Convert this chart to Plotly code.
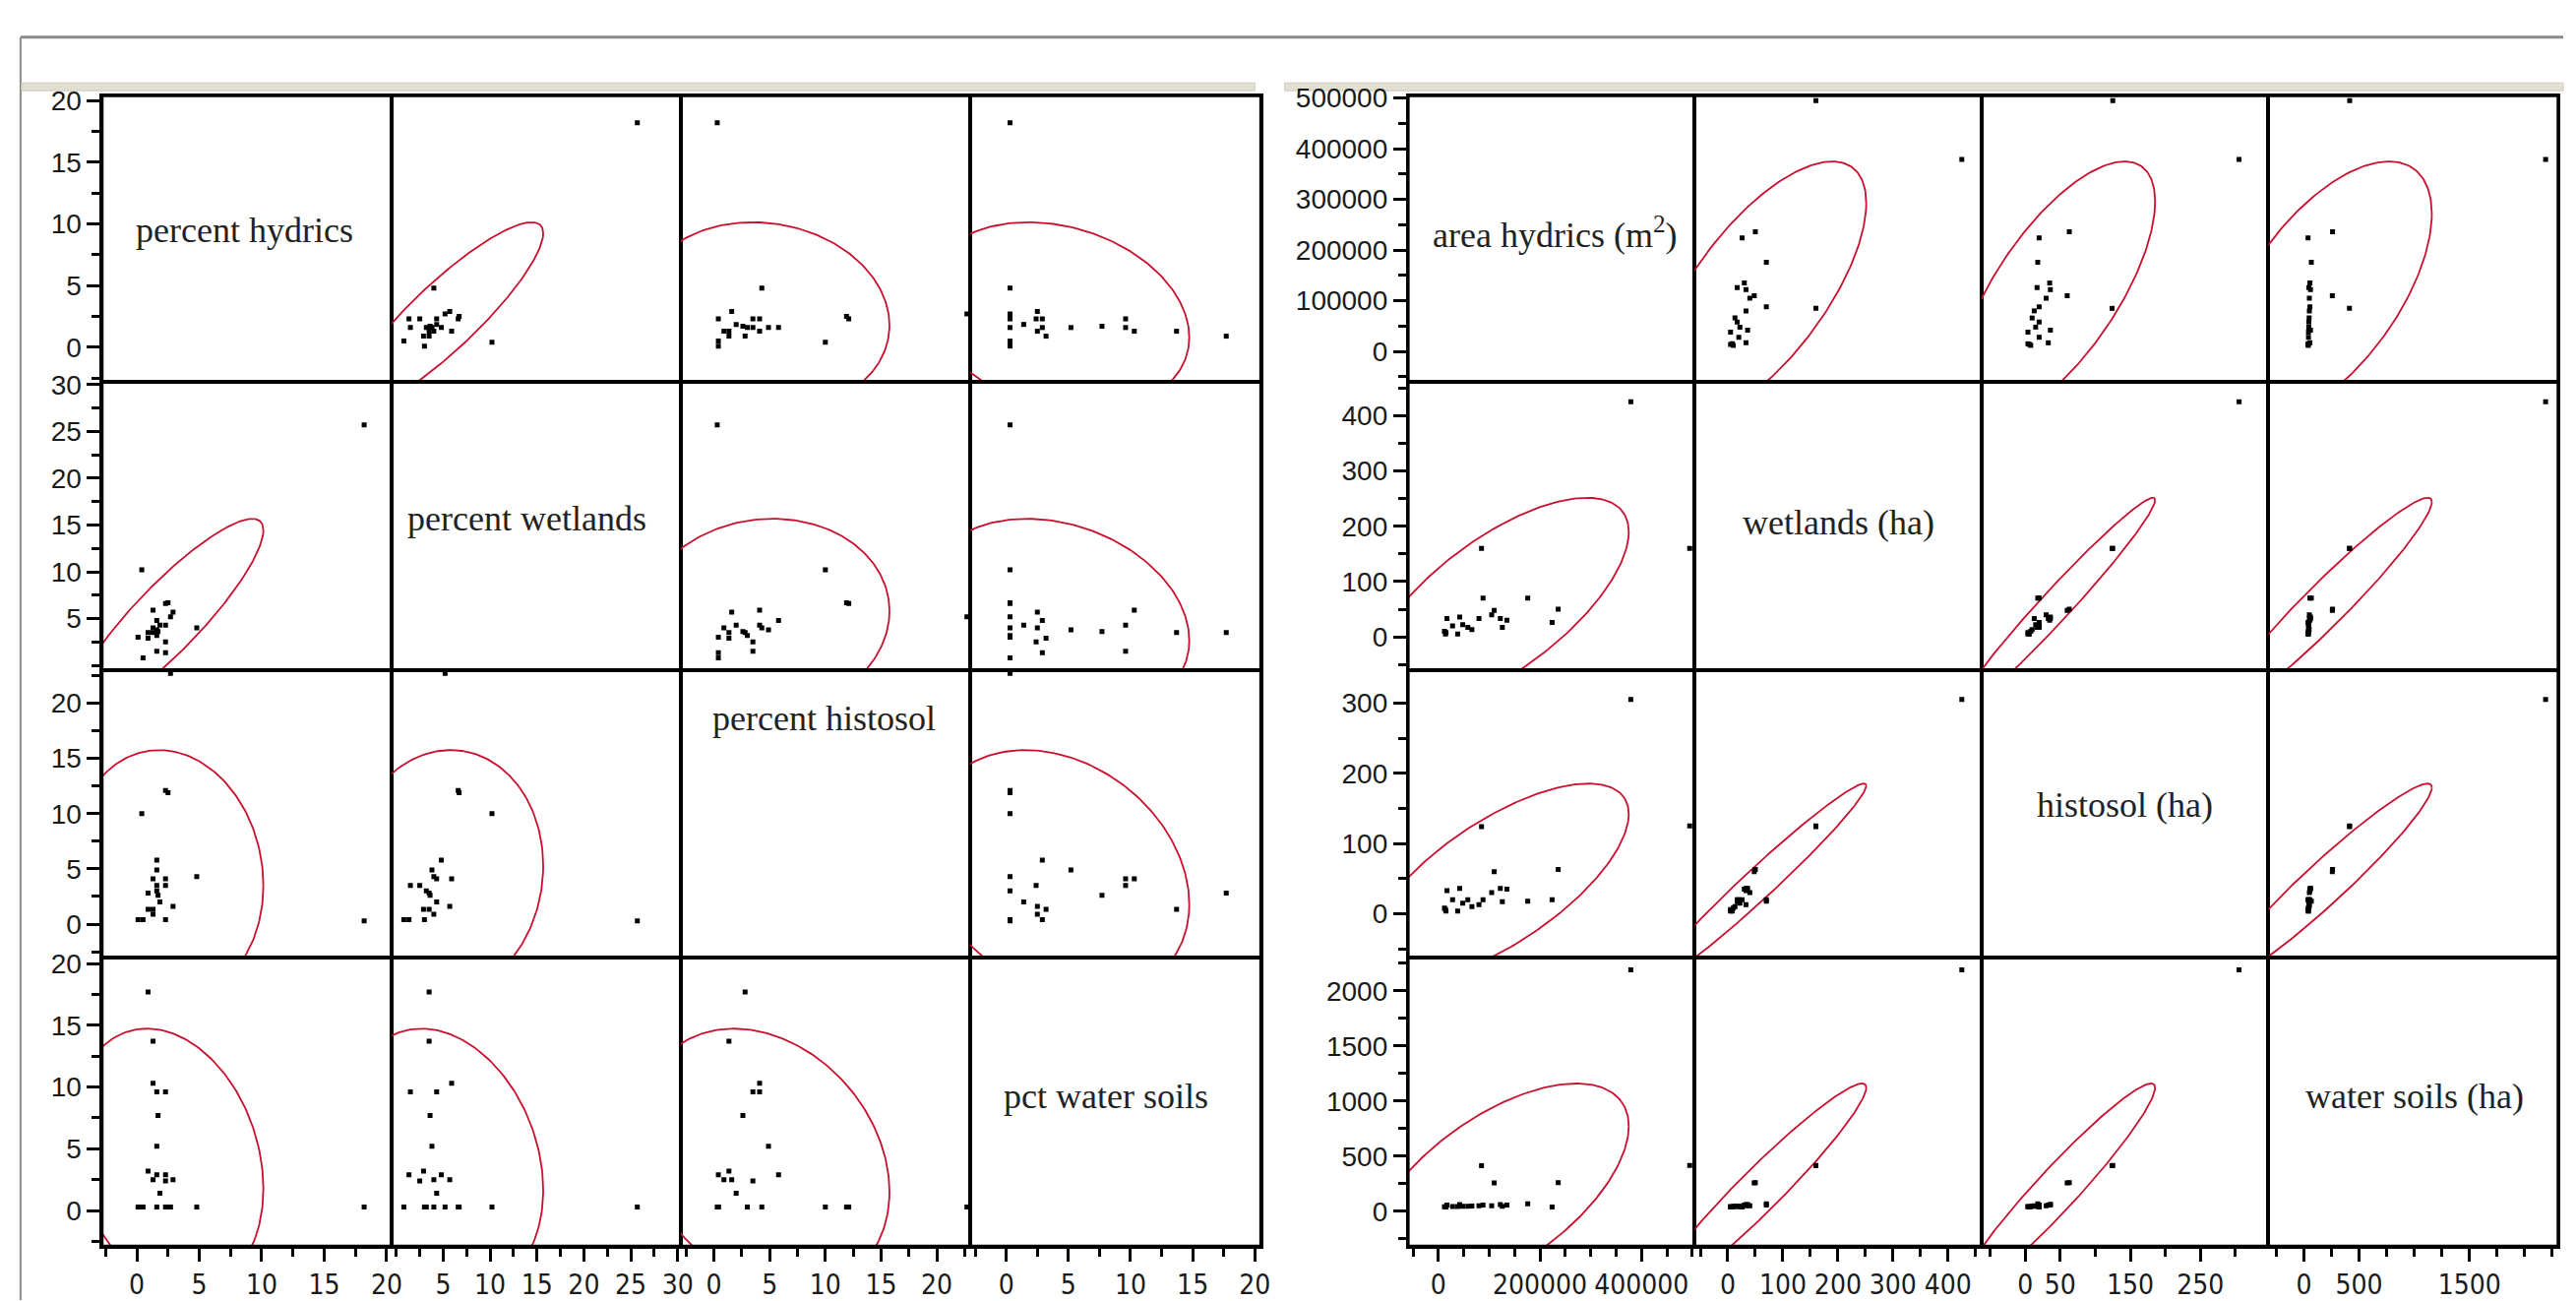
import numpy as np
import plotly.graph_objects as go

FIG_W, FIG_H = 2618, 1322

# ---------------- data ----------------
pct_hydrics  = [18.2, 4.8, 2.7, 2.5, 0.4, 0.9, 1.3, 1.3, 1.6, 2.3, 1.7, 1.6, 0.9, 1.6, 2.3, 1.3, 2.3, 2.9, 1.85, 0.1, 0.5, 1.6, 2.3]
pct_wetlands = [25.7, 4.0, 5.2, 6.7, 10.2, 3.5, 3.5, 5.9, 1.5, 4.3, 3.6, 3.8, 2.9, 4.8, 1.35, 4.0, 2.5, 5.7, 4.3, 3.0, 0.8, 3.2, 6.6]
pct_histosol = [0.3, 4.3, 22.7, 11.9, 10.0, 2.8, 1.35, 4.1, 3.5, 4.1, 2.6, 4.9, 1.35, 5.8, 0.4, 0.9, 3.5, 1.6, 2.0, 0.4, 0.4, 3.0, 12.1]
pct_water    = [0.3, 0.3, 0.3, 0.3, 0.3, 17.7, 13.7, 10.3, 9.6, 9.6, 7.7, 5.2, 3.2, 2.9, 2.9, 2.5, 2.4, 2.5, 1.4, 0.3, 0.3, 0.3, 0.3]

area_hydrics = [379000, 495000, 85000, 236000, 110000, 176000, 88000, 224000, 122000, 126000, 135000, 80000,
                58000, 42000, 17000, 28000, 15000, 38000, 14000, 66000, 105000, 48000, 12000]
wetlands_ha  = [425, 160, 160, 50, 48, 70, 70, 26, 33, 17, 30, 33, 17, 36, 33, 20, 8, 5, 5, 13, 40, 22, 10]
histosol_ha  = [305, 125, 124, 63, 60, 18, 20, 20, 36, 17, 35, 13, 20, 36, 33, 20, 4, 4, 6, 10, 30, 15, 8]
water_ha     = [2190, 415, 413, 260, 258, 68, 55, 38, 60, 45, 55, 50, 45, 60, 55, 42, 40, 42, 38, 48, 50, 45, 40]

left_labels  = ["percent hydrics", "percent wetlands", "percent histosol", "pct water soils"]
right_labels = ["area hydrics (m<sup>2</sup>)", "wetlands (ha)", "histosol (ha)", "water soils (ha)"]

left_ranges  = [[-2.8, 20.4], [-0.5, 30.3], [-3.0, 23.0], [-2.9, 20.5]]
right_ranges = [[-60000, 505000], [-60, 461], [-62, 347], [-320, 2305]]

left_y_ticks  = [[0, 5, 10, 15, 20], [5, 10, 15, 20, 25, 30], [0, 5, 10, 15, 20], [0, 5, 10, 15, 20]]
left_x_ticks  = [[0, 5, 10, 15, 20], [5, 10, 15, 20, 25, 30], [0, 5, 10, 15, 20], [0, 5, 10, 15, 20]]
left_minor    = [2.5, 2.5, 2.5, 2.5]
right_y_ticks = [[0, 100000, 200000, 300000, 400000, 500000], [0, 100, 200, 300, 400], [0, 100, 200, 300], [0, 500, 1000, 1500, 2000]]
right_x_ticks = [[0, 200000, 400000], [0, 100, 200, 300, 400], [0, 50, 150, 250, 350], [0, 500, 1500]]
right_minor   = [50000, 50, 50, 250]

# ---------------- geometry (pixels) ----------------
L_COLS = [104, 400, 695, 991, 1288]
R_COLS = [1438, 1731, 2024, 2317, 2613]
ROWS   = [85, 379, 675, 970, 1267]

def xd(a, b):
    return [a / FIG_W, b / FIG_W]

def yd(a, b):
    return [1 - b / FIG_H, 1 - a / FIG_H]

CHI2_LEVEL = 4.605  # 90% bivariate-normal density ellipse

def ellipse(x, y, n=240):
    x = np.asarray(x, float); y = np.asarray(y, float)
    cov = np.cov(np.vstack([x, y]))
    Lc = np.linalg.cholesky(cov)
    t = np.linspace(0, 2 * np.pi, n)
    circ = np.vstack([np.cos(t), np.sin(t)]) * np.sqrt(CHI2_LEVEL)
    pts = Lc @ circ
    return pts[0] + x.mean(), pts[1] + y.mean()

fig = go.Figure()
layout = {}

tick_font = dict(family="Liberation Sans, Arial, sans-serif", size=28, color="#1a1a1a")
xtick_font = dict(family="Liberation Sans Narrow, DejaVu Sans Condensed, Liberation Sans, Arial, sans-serif", size=28, color="#1a1a1a")

matrices = [
    (L_COLS, [pct_hydrics, pct_wetlands, pct_histosol, pct_water], left_labels, left_ranges,
     left_y_ticks, left_x_ticks, left_minor, left_minor),
    (R_COLS, [area_hydrics, wetlands_ha, histosol_ha, water_ha], right_labels, right_ranges,
     right_y_ticks, right_x_ticks, right_minor, right_minor),
]

label_pos = {
    (0, 0): (250, 223), (0, 1): (538, 520), (0, 2): (842, 725), (0, 3): (1130, 1113),
    (1, 0): (1588, 226), (1, 1): (1878, 524), (1, 2): (2170, 814), (1, 3): (2466, 1113),
}

annotations = []
k = 0
for m, (cols, vars_, labels, ranges, yt, xt, ymin, xmin) in enumerate(matrices):
    for i in range(4):
        for j in range(4):
            k += 1
            xname = "xaxis" if k == 1 else f"xaxis{k}"
            yname = "yaxis" if k == 1 else f"yaxis{k}"
            xref = "x" if k == 1 else f"x{k}"
            yref = "y" if k == 1 else f"y{k}"
            xa = dict(domain=xd(cols[j], cols[j + 1]), range=ranges[j], anchor=yref,
                      showgrid=False, zeroline=False, showline=True, mirror=True,
                      linecolor="black", linewidth=2, fixedrange=True)
            ya = dict(domain=yd(ROWS[i], ROWS[i + 1]), range=ranges[i], anchor=xref,
                      showgrid=False, zeroline=False, showline=True, mirror=True,
                      linecolor="black", linewidth=2, fixedrange=True)
            if i == 3:
                xa.update(ticks="outside", tickvals=xt[j], ticktext=[str(v) for v in xt[j]],
                          ticklen=13, tickwidth=2.5, tickcolor="black",
                          tickfont=xtick_font, showticklabels=True,
                          minor=dict(tick0=0, dtick=xmin[j], ticks="outside", ticklen=8,
                                     tickwidth=2.5, tickcolor="black"))
            else:
                xa.update(ticks="", showticklabels=False)
            if j == 0:
                ya.update(ticks="outside", tickvals=yt[i], ticktext=[str(v) for v in yt[i]],
                          ticklen=13, tickwidth=2.5, tickcolor="black",
                          tickfont=tick_font, showticklabels=True,
                          minor=dict(tick0=0, dtick=ymin[i], ticks="outside", ticklen=8,
                                     tickwidth=2.5, tickcolor="black"))
            else:
                ya.update(ticks="", showticklabels=False)
            layout[xname] = xa
            layout[yname] = ya

            if i == j:
                fig.add_trace(go.Scatter(x=[None], y=[None], xaxis=xref, yaxis=yref, showlegend=False,
                                         mode="markers", hoverinfo="skip"))
                continue
            ex, ey = ellipse(vars_[j], vars_[i])
            fig.add_trace(go.Scatter(x=ex, y=ey, mode="lines", xaxis=xref, yaxis=yref,
                                     line=dict(color="#c8102e", width=1.8), showlegend=False,
                                     hoverinfo="skip"))
            fig.add_trace(go.Scatter(x=vars_[j], y=vars_[i], mode="markers", xaxis=xref, yaxis=yref,
                                     marker=dict(symbol="square", size=5, color="black"),
                                     showlegend=False))
    for d in range(4):
        px, py = label_pos[(m, d)]
        annotations.append(dict(x=px / FIG_W, y=1 - py / FIG_H, xref="paper", yref="paper",
                                text=labels[d], showarrow=False, xanchor="center", yanchor="middle",
                                font=dict(family="Liberation Serif, Times New Roman, serif", size=36,
                                          color="#222222")))

shapes = [
    dict(type="line", xref="paper", yref="paper", x0=21 / FIG_W, x1=1, y0=1 - 25 / FIG_H, y1=1 - 25 / FIG_H,
         line=dict(color="#8a8a8a", width=3), layer="below"),
    dict(type="line", xref="paper", yref="paper", x0=21 / FIG_W, x1=21 / FIG_W, y0=0, y1=1 - 25 / FIG_H,
         line=dict(color="#8a8a8a", width=2), layer="below"),
    dict(type="rect", xref="paper", yref="paper", x0=22 / FIG_W, x1=1282 / FIG_W,
         y0=1 - 80 / FIG_H, y1=1 - 72 / FIG_H, fillcolor="#e2dfd3", line=dict(color="#cfcbbd", width=1),
         layer="below"),
    dict(type="rect", xref="paper", yref="paper", x0=1312 / FIG_W, x1=1,
         y0=1 - 80 / FIG_H, y1=1 - 72 / FIG_H, fillcolor="#e2dfd3", line=dict(color="#cfcbbd", width=1),
         layer="below"),
]
for cols in (L_COLS, R_COLS):
    shapes.append(dict(type="rect", xref="paper", yref="paper",
                       x0=cols[0] / FIG_W, x1=cols[4] / FIG_W,
                       y0=1 - ROWS[4] / FIG_H, y1=1 - ROWS[0] / FIG_H,
                       line=dict(color="black", width=3.5), layer="above"))

fig.update_layout(width=FIG_W, height=FIG_H, margin=dict(l=0, r=0, t=0, b=0),
                  paper_bgcolor="white", plot_bgcolor="white",
                  annotations=annotations, shapes=shapes, showlegend=False, **layout)

fig.write_html("out.html", config={"displayModeBar": False},
               post_script="document.body.style.margin='0';document.body.style.overflow='hidden';")
